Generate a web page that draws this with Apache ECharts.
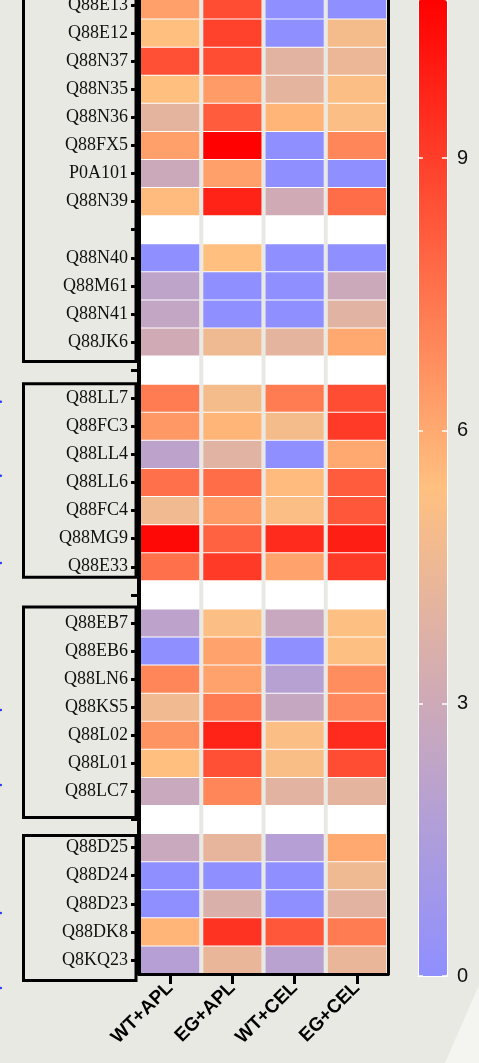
<!DOCTYPE html>
<html>
<head>
<meta charset="utf-8">
<script src="https://cdn.jsdelivr.net/npm/echarts@6/dist/echarts.min.js"></script>
<style>
  html, body { margin: 0; padding: 0; width: 479px; height: 1063px; overflow: hidden; background: #e9e9e4; }
  #chart { position: absolute; left: 0; top: -12px; width: 479px; height: 1075px; }
</style>
</head>
<body>
<div id="chart"></div>
<script>
// Protein rows, top to bottom; '' marks a spacer row between groups
const proteins = [
  'Q88E13', 'Q88E12', 'Q88N37', 'Q88N35', 'Q88N36', 'Q88FX5', 'P0A101', 'Q88N39', '',
  'Q88N40', 'Q88M61', 'Q88N41', 'Q88JK6', '',
  'Q88LL7', 'Q88FC3', 'Q88LL4', 'Q88LL6', 'Q88FC4', 'Q88MG9', 'Q88E33', '',
  'Q88EB7', 'Q88EB6', 'Q88LN6', 'Q88KS5', 'Q88L02', 'Q88L01', 'Q88LC7', '',
  'Q88D25', 'Q88D24', 'Q88D23', 'Q88DK8', 'Q8KQ23'
];

const conditions = ['WT+APL', 'EG+APL', 'WT+CEL', 'EG+CEL'];

// Values per condition, aligned with proteins (null on spacer rows)
const wtApl = [6.3, 5.4, 8.5, 5.4, 4.1, 6.3, 2.9, 5.5, null,
  0, 2.3, 2.5, 3.1, null,
  7.3, 6.5, 2.2, 7.6, 4.7, 10.5, 7.6, null,
  2.2, 0, 7.0, 4.7, 6.6, 5.4, 2.8, null,
  2.8, 0, 0, 5.7, 1.8];
const egApl = [8.6, 8.9, 8.6, 6.4, 8.2, 10.7, 6.3, 9.8, null,
  5.4, 0, 0, 4.6, null,
  4.9, 5.7, 3.9, 7.7, 6.4, 8.0, 9.1, null,
  5.2, 6.2, 6.2, 7.3, 9.8, 8.5, 7.0, null,
  4.2, 0, 3.6, 9.3, 4.3];
const wtCel = [0, 0, 4.0, 4.1, 5.7, 0, 0, 3.1, null,
  0, 0, 0, 4.1, null,
  7.3, 4.9, 0, 5.5, 5.2, 9.5, 6.2, null,
  2.7, 0, 1.9, 2.6, 5.2, 5.1, 4.0, null,
  1.8, 0, 0, 8.3, 2.0];
const egCel = [0, 4.9, 4.4, 5.2, 5.2, 7.0, 0, 7.7, null,
  0, 2.9, 3.9, 6.0, null,
  8.6, 9.1, 6.0, 8.2, 8.3, 9.9, 9.1, null,
  5.3, 5.3, 6.8, 6.9, 9.5, 8.6, 4.1, null,
  6.0, 4.6, 4.0, 7.3, 4.3];

// Colour scale
const scaleMin = 0;
const scaleMax = 10.74;
const scaleTicks = [0, 3, 6, 9];

// Group frames on the left: first and last row of each group
const groups = [
  { from: 'Q88E13', to: 'Q88JK6', padTop: 30, padBottom: 5.5 },
  { from: 'Q88LL7', to: 'Q88E33', padTop: 0.5, padBottom: -3.5 },
  { from: 'Q88EB7', to: 'Q88LC7', padTop: 2, padBottom: 12 },
  { from: 'Q88D25', to: 'Q8KQ23', padTop: -2, padBottom: 6.5 }
];

const columns = [wtApl, egApl, wtCel, egCel];
const cells = [];
columns.forEach((vals, c) => {
  vals.forEach((v, r) => {
    if (v !== null) cells.push([c, r, v]);
  });
});

const chart = echarts.init(document.getElementById('chart'));

const gridTop = 3, gridHeight = 983;

const option = {
  backgroundColor: '#e9e9e4',
  animation: false,
  grid: [
    { left: 139, top: gridTop, width: 249, height: gridHeight },
    { left: 418, top: 12, width: 29, height: 976 }
  ],
  xAxis: [
    {
      type: 'category', gridIndex: 0, data: conditions, z: 5,
      axisLine: { show: true, onZero: false, lineStyle: { color: '#000', width: 3 } },
      axisTick: { show: true, alignWithLabel: true, length: 10, lineStyle: { color: '#000', width: 3 } },
      axisLabel: {
        interval: 0, rotate: 45, margin: 11,
        fontFamily: 'Liberation Sans', fontWeight: 'bold', fontSize: 19, color: '#000'
      },
      splitLine: { show: false }
    },
    {
      type: 'value', gridIndex: 1, min: 0, max: 1, z: 10,
      axisLine: { show: true, onZero: false, lineStyle: { color: '#ffffff', width: 1 } },
      axisTick: { show: false }, axisLabel: { show: false }, splitLine: { show: false }
    }
  ],
  yAxis: [
    {
      type: 'category', gridIndex: 0, data: proteins, inverse: true, position: 'left', z: 5,
      axisLine: { show: true, onZero: false, lineStyle: { color: '#000', width: 4 } },
      axisTick: { show: true, alignWithLabel: true, interval: 0, length: 8, lineStyle: { color: '#000', width: 3 } },
      axisLabel: { interval: 0, margin: 11, fontFamily: 'Liberation Serif', fontSize: 18, color: '#111' },
      splitLine: { show: false }
    },
    {
      type: 'category', gridIndex: 0, data: proteins, inverse: true, position: 'right', z: 5,
      axisLine: { show: true, onZero: false, lineStyle: { color: '#000', width: 3 } },
      axisTick: { show: false }, axisLabel: { show: false }, splitLine: { show: false }
    },
    {
      type: 'value', gridIndex: 1, min: scaleMin, max: scaleMax, position: 'right', z: 10,
      axisLine: { show: true, onZero: false, lineStyle: { color: '#ffffff', width: 1 } },
      axisTick: { show: true, inside: true, length: 5, customValues: scaleTicks, lineStyle: { color: '#ffffff', width: 1.5 } },
      axisLabel: { customValues: scaleTicks, margin: 10, fontFamily: 'Liberation Sans', fontSize: 20, color: '#111' },
      splitLine: { show: false }
    },
    {
      type: 'value', gridIndex: 1, min: scaleMin, max: scaleMax, position: 'left', z: 10,
      axisLine: { show: true, onZero: false, lineStyle: { color: '#ffffff', width: 1 } },
      axisTick: { show: true, inside: true, length: 5, customValues: scaleTicks, lineStyle: { color: '#ffffff', width: 1.5 } },
      axisLabel: { show: false },
      splitLine: { show: false }
    }
  ],
  visualMap: {
    type: 'continuous',
    min: scaleMin, max: scaleMax,
    dimension: 2,
    seriesIndex: 1,
    orient: 'vertical',
    left: 418, top: 12,
    itemWidth: 29, itemHeight: 976,
    padding: 0,
    calculable: false,
    hoverLink: false,
    text: null,
    showLabel: false,
    inRange: { color: ['#8f8fff', '#ffc080', '#ff0000'] }
  },
  series: [
    {
      // white column stripes behind the cells
      type: 'custom',
      xAxisIndex: 0, yAxisIndex: 0,
      silent: true, z: 1,
      data: conditions.map((_, i) => [i, 0]),
      renderItem: (params, api) => {
        const cs = params.coordSys;
        const cx = api.coord([api.value(0), 0])[0];
        const bw = api.size([1, 1])[0];
        return {
          type: 'rect',
          shape: { x: cx - bw / 2 + 2, y: cs.y, width: bw - 4, height: cs.height },
          style: { fill: '#ffffff' }
        };
      }
    },
    {
      type: 'custom',
      xAxisIndex: 0, yAxisIndex: 0,
      z: 2,
      encode: { x: 0, y: 1 },
      data: cells,
      renderItem: (params, api) => {
        const p = api.coord([api.value(0), api.value(1)]);
        const s = api.size([1, 1]);
        return {
          type: 'rect',
          shape: { x: p[0] - s[0] / 2 + 2, y: p[1] - s[1] / 2 + 0.5, width: s[0] - 4, height: s[1] - 1 },
          style: { fill: api.visual('color') }
        };
      }
    }
  ]
};

chart.setOption(option);

// Group frames placed from the row positions on the category axis
const rowY = (i) => chart.convertToPixel({ yAxisIndex: 0 }, i);
const rowH = Math.abs(rowY(1) - rowY(0));
const frames = groups.map((g) => {
  const a = proteins.indexOf(g.from);
  const b = proteins.indexOf(g.to);
  const y0 = rowY(a) - rowH / 2 - g.padTop;
  const y1 = rowY(b) + rowH / 2 + g.padBottom;
  return {
    type: 'rect',
    shape: { x: 23.5, y: y0, width: 112.5, height: y1 - y0 },
    style: { fill: 'none', stroke: '#000', lineWidth: 3 },
    z: 20
  };
});

// small blue edge markers on the far left
const edgeMarks = [401.7, 475.7, 563, 710, 785, 913, 988].map((y) => ({
  type: 'circle',
  shape: { cx: 0.8, cy: y + 12, r: 1.3 },
  style: { fill: '#2b3cff' },
  z: 20
}));

chart.setOption({
  graphic: frames.concat(edgeMarks, [{
    type: 'polygon',
    shape: { points: [[479, 985 + 12], [445, 1063 + 12], [479, 1063 + 12]] },
    style: { fill: '#f4f4f1' },
    z: 0
  }])
});
</script>
</body>
</html>
